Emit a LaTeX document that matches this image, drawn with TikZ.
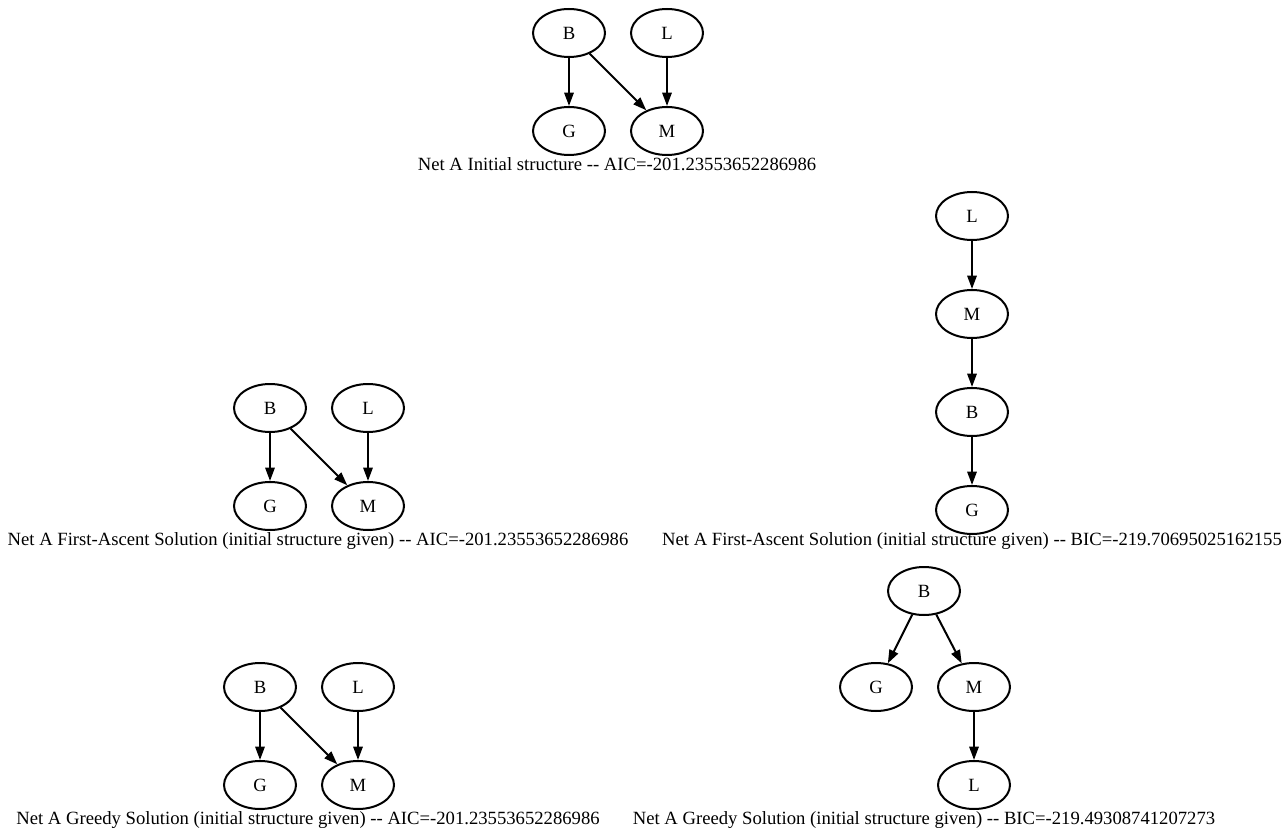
\documentclass[tikz,border=0pt]{standalone}
\usepackage{fontspec}
\setmainfont{Liberation Serif}
\usepackage{tikz}
\usetikzlibrary{arrows.meta,positioning,shapes.geometric}

\begin{document}
\begin{tikzpicture}[
  x=0.75pt, y=-0.75pt,
  var/.style={
    draw,
    ellipse,
    line width=1.5pt,
    minimum width=54pt,
    minimum height=36pt,
    inner sep=0pt,
    font=\fontsize{14}{16}\selectfont
  },
  netlabel/.style={inner sep=0pt, font=\fontsize{14}{16}\selectfont},
  link/.style={-{Triangle[length=10pt,width=7pt]},line width=1.5pt},
  node distance=36pt and 18pt
]
  \useasboundingbox (0,0) rectangle (1288,834);

  % initial structure
  \node[var] (tB) at (569,33) {B};
  \node[var,right=of tB] (tL) {L};
  \node[var,below=of tB] (tG) {G};
  \node[var,below=of tL] (tM) {M};
  \draw[link] (tB) -- (tG);
  \draw[link] (tB) -- (tM);
  \draw[link] (tL) -- (tM);
  \node[netlabel] (tcap) at (617,164) {Net A Initial structure -{}- AIC=-201.23553652286986};

  % first-ascent, AIC
  \node[var] (aB) at (270,408) {B};
  \node[var,right=of aB] (aL) {L};
  \node[var,below=of aB] (aG) {G};
  \node[var,below=of aL] (aM) {M};
  \draw[link] (aB) -- (aG);
  \draw[link] (aB) -- (aM);
  \draw[link] (aL) -- (aM);
  \node[netlabel] (acap) at (318,541) {Net A First-Ascent Solution (initial structure given) -{}- AIC=-201.23553652286986};

  % first-ascent, BIC
  \node[var] (bL) at (972,216) {L};
  \node[var,below=of bL] (bM) {M};
  \node[var,below=of bM] (bB) {B};
  \node[var,below=of bB] (bG) {G};
  \draw[link] (bL) -- (bM);
  \draw[link] (bM) -- (bB);
  \draw[link] (bB) -- (bG);
  \node[netlabel] (bcap) at (972,541) {Net A First-Ascent Solution (initial structure given) -{}- BIC=-219.70695025162155};

  % greedy, AIC
  \node[var] (cB) at (260,687) {B};
  \node[var,right=of cB] (cL) {L};
  \node[var,below=of cB] (cG) {G};
  \node[var,below=of cL] (cM) {M};
  \draw[link] (cB) -- (cG);
  \draw[link] (cB) -- (cM);
  \draw[link] (cL) -- (cM);
  \node[netlabel] (ccap) at (308,820) {Net A Greedy Solution (initial structure given) -{}- AIC=-201.23553652286986};

  % greedy, BIC
  \node[var] (dB) at (924,591) {B};
  \node[var] (dG) at (876,687) {G};
  \node[var,right=of dG] (dM) {M};
  \node[var,below=of dM] (dL) {L};
  \draw[link] (dB) -- (dG);
  \draw[link] (dB) -- (dM);
  \draw[link] (dM) -- (dL);
  \node[netlabel] (dcap) at (924,820) {Net A Greedy Solution (initial structure given) -{}- BIC=-219.49308741207273};
\end{tikzpicture}
\end{document}
